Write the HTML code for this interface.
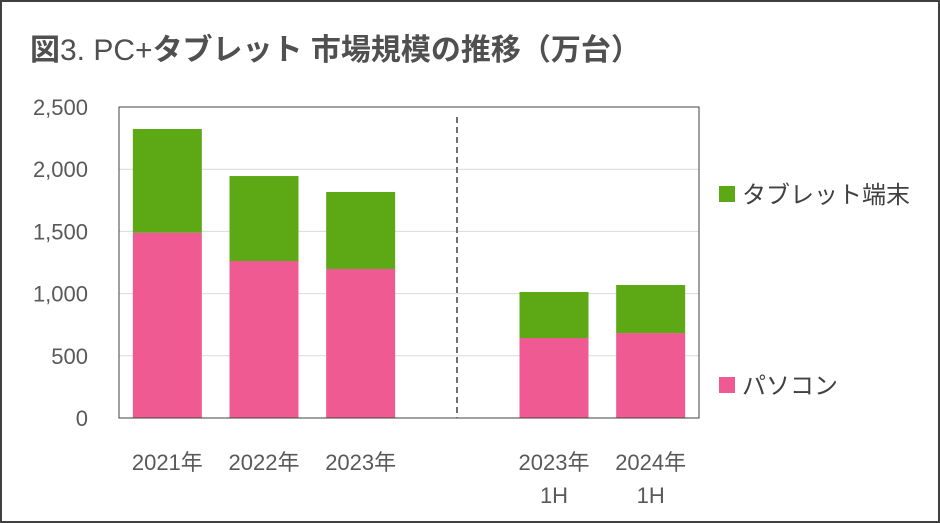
<!DOCTYPE html>
<html><head><meta charset="utf-8"><style>
body{margin:0;background:#fff;}
#wrap{position:relative;width:940px;height:523px;box-sizing:border-box;border:2px solid #404040;background:#fff;overflow:hidden;}
svg text{font-family:"Liberation Sans","Noto Sans CJK JP",sans-serif;}
</style></head><body>
<div id="wrap">
<svg id="chart" width="936" height="519" viewBox="2 2 936 519">
<text x="30" y="60" font-size="30" font-weight="bold" fill="#505050">図<tspan font-weight="normal">3. PC+</tspan>タブレット  市場規模の推移（万台）</text>
<g id="grid"></g><g id="bars"></g><g id="axis"></g>
<rect x="119" y="107" width="580" height="311" fill="none" stroke="#404040" stroke-width="1"/>
<line x1="457" y1="117" x2="457" y2="418" stroke="#707070" stroke-width="2" stroke-dasharray="6,4"/>
<rect x="719" y="186" width="16" height="16" fill="#5ca815"/>
<text x="742" y="203" font-size="24" fill="#404040">タブレット端末</text>
<rect x="719" y="377" width="16" height="16" fill="#ef5a92"/>
<text x="742" y="394" font-size="24" fill="#404040">パソコン</text>
</svg></div>
<script>
const categories=["2021年","2022年","2023年","","2023年","2024年"];
const subLabels=["","","","","1H","1H"];
const pcValues=[1490,1262,1198,null,643,683];
const tabletValues=[833,683,619,null,370,386];
const yTicks=[0,500,1000,1500,2000,2500];
const tickLabels=["0","500","1,000","1,500","2,000","2,500"];
const NS="http://www.w3.org/2000/svg";
const x0=119,x1=699,y0=418,y1=107,yMax=2500;
const slot=(x1-x0)/categories.length,bw=69;
const yS=v=>y0-(v/yMax)*(y0-y1);
const xC=i=>x0+slot*(i+0.5);
function mk(tag,attrs,parent){const e=document.createElementNS(NS,tag);for(const k in attrs)e.setAttribute(k,attrs[k]);parent.appendChild(e);return e;}
const grid=document.getElementById('grid'),bars=document.getElementById('bars'),axis=document.getElementById('axis');
yTicks.forEach((t,i)=>{
  if(t>0&&t<yMax){const l=mk('line',{x1:x0,x2:x1,y1:yS(t),y2:yS(t),stroke:'#d9d9d9','stroke-width':1},grid);
  
  }
  const tx=mk('text',{x:88,y:yS(t)+8,'font-size':22,fill:'#595959','text-anchor':'end'},axis);
  tx.textContent=tickLabels[i];
  
  
});
categories.forEach((c,i)=>{
  if(pcValues[i]==null)return;
  const cx=xC(i),p=pcValues[i],t=tabletValues[i];
  const r1=mk('rect',{x:cx-bw/2,y:yS(p),width:bw,height:y0-yS(p),fill:'#ef5a92'},bars);
  
  
  const r2=mk('rect',{x:cx-bw/2,y:yS(p+t),width:bw,height:yS(p)-yS(p+t),fill:'#5ca815'},bars);
  
  
  const l=mk('text',{x:cx,y:470,'font-size':22,fill:'#595959','text-anchor':'middle'},axis);
  l.textContent=c;
  
  
  if(subLabels[i]){const s=mk('text',{x:cx,y:503,'font-size':22,fill:'#595959','text-anchor':'middle'},axis);
  s.textContent=subLabels[i];
  
  }
});
</script>
</body></html>
